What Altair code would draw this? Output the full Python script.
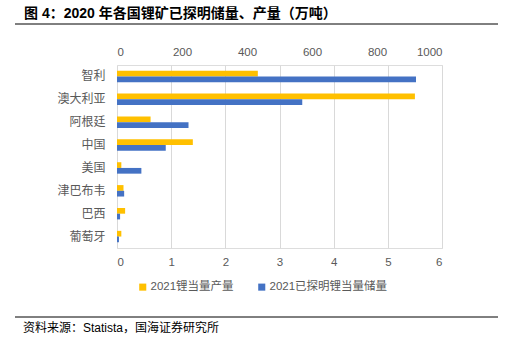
import altair as alt
import pandas as pd

countries = ["智利", "澳大利亚", "阿根廷", "中国", "美国", "津巴布韦", "巴西", "葡萄牙"]
production = [2.6, 5.5, 0.62, 1.4, 0.08, 0.12, 0.15, 0.08]      # 万吨, bottom axis
reserves = [920, 570, 220, 150, 75, 22, 9.5, 6]                 # 万吨, top axis
series_names = ["2021锂当量产量", "2021已探明锂当量储量"]
colors = ["#FFC000", "#4472C4"]
top_ticks = [0, 200, 400, 600, 800, 1000]
bottom_ticks = [0, 1, 2, 3, 4, 5, 6]
title_text = "图 4：2020 年各国锂矿已探明储量、产量（万吨）"
source_text = "资料来源：Statista，国海证券研究所"

rows = []
for c, p, r in zip(countries, production, reserves):
    rows.append({"country": c, "series": series_names[0], "value": p})
    rows.append({"country": c, "series": series_names[1], "value": r})
df = pd.DataFrame(rows)

FONT = "Liberation Sans, Noto Sans CJK SC"
GRAY = "#595959"

y_enc = alt.Y("country:N", sort=countries,
              scale=alt.Scale(paddingInner=0.5, paddingOuter=0.25),
              axis=alt.Axis(title=None, domain=False, ticks=False, labelFontSize=12,
                            labelColor=GRAY, labelFont="Noto Sans CJK SC", labelPadding=12))
yoff = alt.YOffset("series:N", scale=alt.Scale(domain=series_names))
color = alt.Color("series:N", scale=alt.Scale(domain=series_names, range=colors),
                  legend=alt.Legend(orient="none", legendX=20, legendY=216, direction="horizontal",
                                    title=None, symbolType="square", symbolSize=50,
                                    symbolStrokeWidth=0, labelFontSize=11.5, labelColor=GRAY,
                                    labelFont=FONT, columnPadding=22, labelOffset=2))

base = alt.Chart(df)

prod_layer = base.transform_filter(alt.datum.series == series_names[0]).mark_bar().encode(
    y=y_enc,
    yOffset=yoff,
    color=color,
    x=alt.X("value:Q", scale=alt.Scale(domain=[0, 6], nice=False),
            axis=alt.Axis(orient="bottom", title=None, values=bottom_ticks, domain=False, ticks=False,
                          grid=True, gridColor="#D9D9D9", labelFontSize=11.5, labelColor=GRAY,
                          labelFont=FONT, labelPadding=8, format="d")),
)

res_layer = base.transform_filter(alt.datum.series == series_names[1]).mark_bar().encode(
    y=y_enc,
    yOffset=yoff,
    color=color,
    x=alt.X("value:Q", scale=alt.Scale(domain=[0, 1000], nice=False),
            axis=alt.Axis(orient="top", title=None, values=top_ticks, domain=False, ticks=False,
                          grid=False, labelFontSize=11.5, labelColor=GRAY,
                          labelFont=FONT, labelPadding=8, format="d")),
)

title = alt.Chart(pd.DataFrame({"t": [title_text]})).mark_text(
    align="left", baseline="middle", fontSize=14, fontWeight="bold", font=FONT, color="#000000"
).encode(x=alt.value(-93), y=alt.value(-51), text="t:N")

source = alt.Chart(pd.DataFrame({"t": [source_text]})).mark_text(
    align="left", baseline="middle", fontSize=12, font=FONT, color="#000000"
).encode(x=alt.value(-94), y=alt.value(263), text="t:N")

line_top = alt.Chart(pd.DataFrame({"a": [0]})).mark_rule(color="#000000", strokeWidth=1).encode(
    x=alt.value(-102), x2=alt.value(381), y=alt.value(-41))
line_bot = alt.Chart(pd.DataFrame({"a": [0]})).mark_rule(color="#000000", strokeWidth=1).encode(
    x=alt.value(-102), x2=alt.value(381), y=alt.value(252))

chart = alt.layer(prod_layer, res_layer, title, source, line_top, line_bot).resolve_scale(
    x="independent"
).properties(
    width=325, height=183,
    autosize=alt.AutoSizeParams(type="none"),
    padding={"left": 117, "top": 65, "right": 87, "bottom": 106},
).configure_view(stroke=None).configure(background="white")

chart.save("out.html", embed_options={"renderer": "svg", "actions": False})
